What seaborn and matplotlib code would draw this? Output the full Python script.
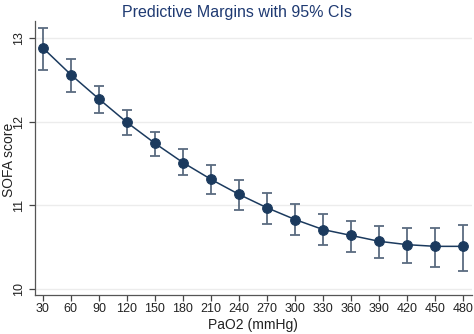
import matplotlib
matplotlib.use("Agg")
import matplotlib.pyplot as plt
import seaborn as sns
import numpy as np
import pandas as pd

# Predictive margins of SOFA score across PaO2 levels, with 95% confidence limits
pao2 = [30, 60, 90, 120, 150, 180, 210, 240, 270, 300, 330, 360, 390, 420, 450, 480]
margin = [12.88, 12.56, 12.27, 11.99, 11.74, 11.51, 11.31, 11.13, 10.97, 10.83,
          10.71, 10.64, 10.57, 10.53, 10.51, 10.51]
ci_low = [12.62, 12.35, 12.10, 11.84, 11.59, 11.36, 11.14, 10.94, 10.78, 10.65,
          10.53, 10.44, 10.37, 10.31, 10.26, 10.21]
ci_high = [13.12, 12.75, 12.42, 12.14, 11.88, 11.67, 11.48, 11.30, 11.15, 11.02,
           10.90, 10.81, 10.75, 10.73, 10.73, 10.77]
y_ticks = [10, 11, 12, 13]

df = pd.DataFrame({"PaO2": pao2, "SOFA": margin, "lo": ci_low, "hi": ci_high})

sns.set_theme(style="white")
plt.rcParams["font.family"] = ["Liberation Sans", "DejaVu Sans"]

fig = plt.figure(figsize=(4.74, 3.34), dpi=100)
ax = fig.add_axes([0.074, 0.117, 0.922, 0.820])

navy = "#1b3a5e"
ci_col = "#5a6b80"

ax.errorbar(df["PaO2"], df["SOFA"],
            yerr=[df["SOFA"] - df["lo"], df["hi"] - df["SOFA"]],
            fmt="none", ecolor=ci_col, elinewidth=1.3, capsize=3.5, capthick=1.3,
            zorder=2)
sns.lineplot(data=df, x="PaO2", y="SOFA", ax=ax, color=navy, linewidth=1.1,
             marker="o", markersize=7, markeredgecolor=navy,
             markerfacecolor=navy, zorder=3)

ax.set_xlim(21.7, 489.4)
ax.set_ylim(9.93, 13.2)
ax.set_xticks(pao2)
ax.set_yticks(y_ticks)
ax.set_yticklabels([str(t) for t in y_ticks], rotation=90, va="center")
ax.tick_params(axis="both", which="major", direction="out", length=4.5, width=0.9,
               color="#444444", labelsize=9, labelcolor="#222222", pad=1.5)
ax.tick_params(axis="y", pad=2.5)
ax.tick_params(axis="x", bottom=True)
ax.tick_params(axis="y", left=True)

ax.yaxis.grid(True, color="#ececec", linewidth=1.0)
ax.xaxis.grid(False)
ax.set_axisbelow(True)

for side in ("top", "right"):
    ax.spines[side].set_visible(False)
for side in ("left", "bottom"):
    ax.spines[side].set_color("#555555")
    ax.spines[side].set_linewidth(0.9)

# Axis titles placed in figure coordinates so they stay inside the canvas
ax.set_xlabel("")
ax.set_ylabel("")
fig.text(0.534, 0.048, "PaO2 (mmHg)", fontsize=10, color="#222222",
         ha="center", va="top")
fig.text(0.018, 0.521, "SOFA score", fontsize=10, color="#222222",
         ha="center", va="center", rotation=90)
fig.suptitle("Predictive Margins with 95% CIs", fontsize=11.5, color="#1f3a72",
             y=0.985)

fig.savefig("out.png", dpi=100, facecolor="white")
